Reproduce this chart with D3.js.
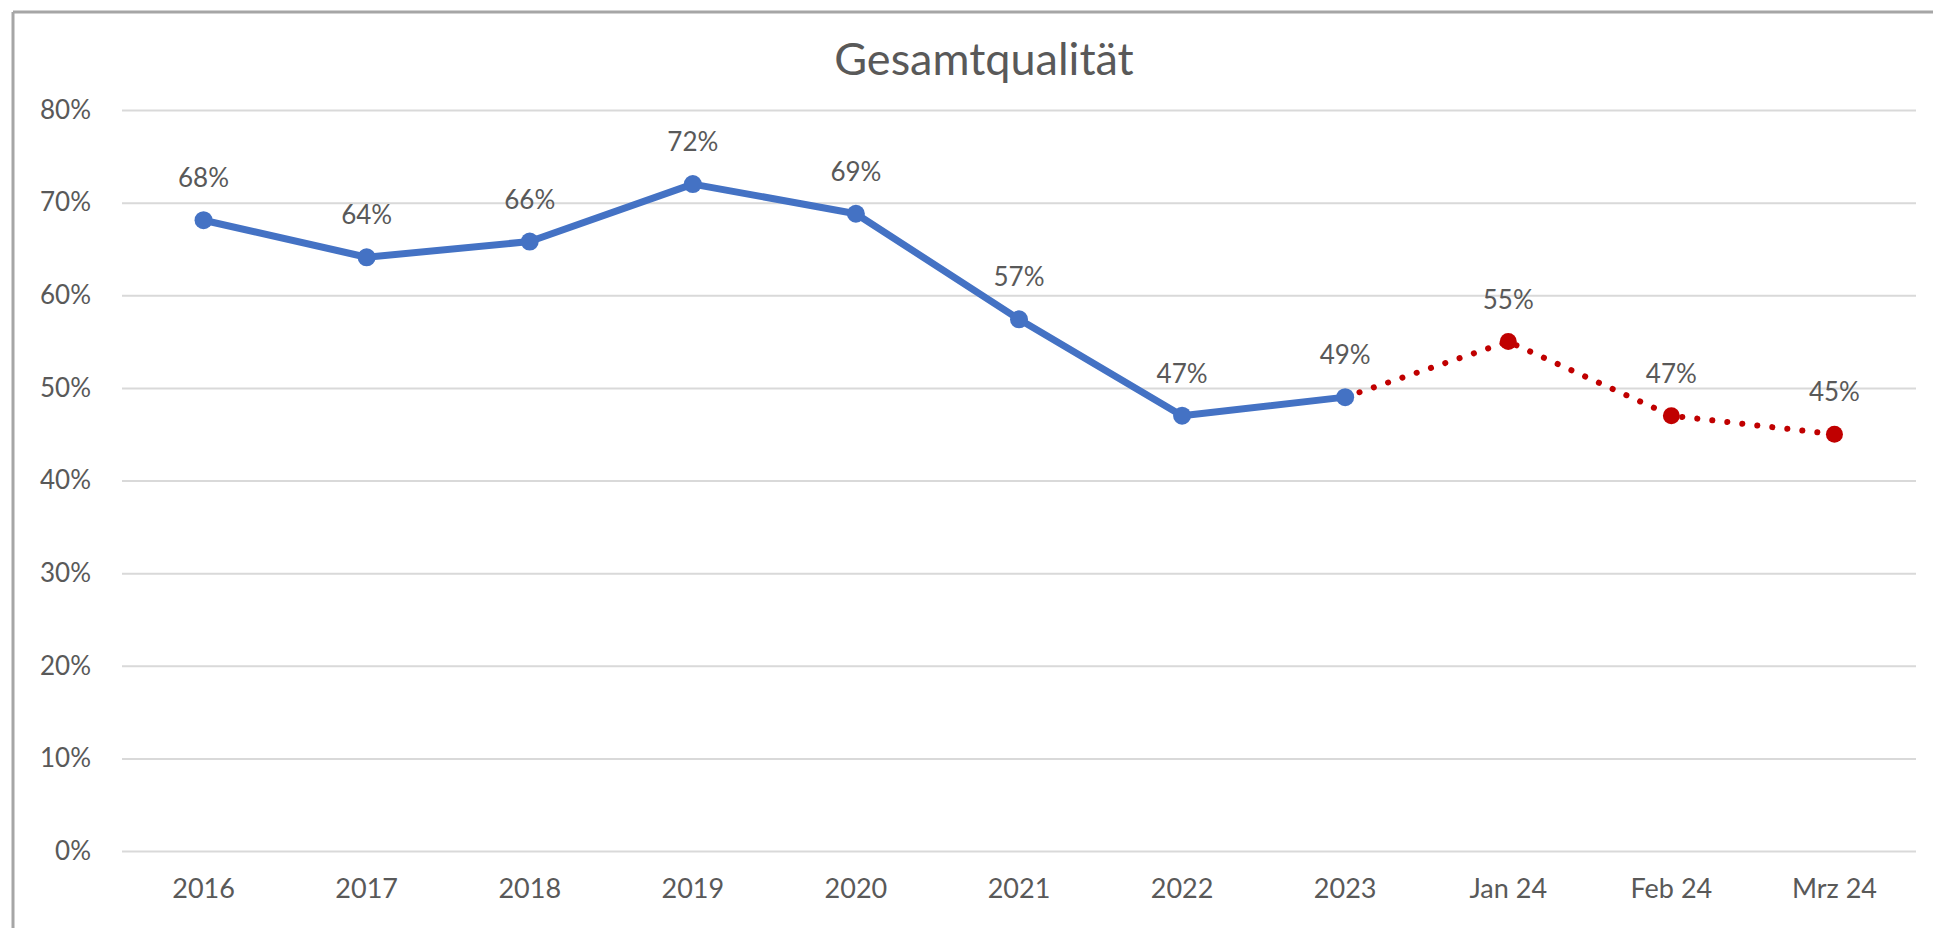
<!DOCTYPE html>
<html>
<head>
<meta charset="utf-8">
<script src="https://cdn.jsdelivr.net/npm/d3@7"></script>
<style>
  html, body { margin: 0; padding: 0; background: #fff; }
  svg { display: block; }
  text { font-family: Lato, "Open Sans", sans-serif; fill: #595959; }
</style>
</head>
<body>
<svg id="chart" width="1933" height="928"></svg>
<script>
const title = "Gesamtqualität";
const categories = ["2016", "2017", "2018", "2019", "2020", "2021", "2022", "2023", "Jan 24", "Feb 24", "Mrz 24"];
const actualValues = [68.1, 64.1, 65.8, 72.0, 68.8, 57.4, 47.0, 49.0, null, null, null];
const forecastValues = [null, null, null, null, null, null, null, 49.0, 55.0, 47.0, 45.0];
const forecastLabelled = [false, false, false, false, false, false, false, false, true, true, true];
const yTicks = [0, 10, 20, 30, 40, 50, 60, 70, 80];

const W = 1933, H = 928;
const svg = d3.select("#chart");
const plot = { left: 122, right: 1916, top: 110, bottom: 851 };

const x = d3.scaleBand().domain(categories).range([plot.left, plot.right]).padding(0);
const cx = d => x(d) + x.bandwidth() / 2;
const y = d3.scaleLinear().domain([0, 80]).range([plot.bottom, plot.top]);

// frame
svg.append("line").attr("x1", 13).attr("x2", W).attr("y1", 12).attr("y2", 12)
  .attr("stroke", "#a6a6a6").attr("stroke-width", 3);
svg.append("line").attr("x1", 13).attr("x2", 13).attr("y1", 12).attr("y2", H)
  .attr("stroke", "#a6a6a6").attr("stroke-width", 3);

// title
svg.append("text").attr("x", 984).attr("y", 58).attr("text-anchor", "middle")
  .attr("dominant-baseline", "central").style("font-size", "45px").text(title);

// y axis gridlines + labels
const yAxis = d3.axisLeft(y).tickValues(yTicks).tickSize(-(plot.right - plot.left))
  .tickPadding(31).tickFormat(d => d + "%");
const gy = svg.append("g").attr("transform", `translate(${plot.left},0)`).call(yAxis);
gy.select(".domain").remove();
gy.selectAll(".tick line").attr("stroke", "#d9d9d9").attr("stroke-width", 2);
gy.selectAll(".tick text").style("font-size", "26px").attr("fill", "#595959")
  .style("font-family", "Lato, 'Open Sans', sans-serif");

// x axis labels
const xAxis = d3.axisBottom(x).tickSize(0).tickPadding(28);
const gx = svg.append("g").attr("transform", `translate(0,${plot.bottom})`).call(xAxis);
gx.select(".domain").remove();
gx.selectAll(".tick text").style("font-size", "27px").attr("fill", "#595959")
  .style("font-family", "Lato, 'Open Sans', sans-serif");

const lineGen = d3.line()
  .defined(d => d.v !== null)
  .x(d => cx(d.c))
  .y(d => y(d.v));

const actual = categories.map((c, i) => ({ c, v: actualValues[i], lab: true }));
const forecast = categories.map((c, i) => ({ c, v: forecastValues[i], lab: forecastLabelled[i] }));

// forecast dotted line
svg.append("path").datum(forecast).attr("d", lineGen)
  .attr("fill", "none").attr("stroke", "#c00000").attr("stroke-width", 6)
  .attr("stroke-linecap", "round").attr("stroke-dasharray", "0.1 15");

// actual line
svg.append("path").datum(actual).attr("d", lineGen)
  .attr("fill", "none").attr("stroke", "#4472c4").attr("stroke-width", 7)
  .attr("stroke-linejoin", "round");

// forecast markers
const fPts = forecast.filter(d => d.v !== null && d.lab);
svg.selectAll(".fm").data(fPts).enter().append("circle")
  .attr("cx", d => cx(d.c)).attr("cy", d => y(d.v)).attr("r", 8.5).attr("fill", "#c00000");

// actual markers
const aPts = actual.filter(d => d.v !== null);
svg.selectAll(".am").data(aPts).enter().append("circle")
  .attr("cx", d => cx(d.c)).attr("cy", d => y(d.v)).attr("r", 9).attr("fill", "#4472c4");

// labels
const labelled = aPts.concat(fPts);
svg.selectAll(".lab").data(labelled).enter().append("text")
  .attr("x", d => cx(d.c)).attr("y", d => y(d.v) - 43)
  .attr("text-anchor", "middle").attr("dominant-baseline", "central")
  .style("font-size", "26px").text(d => Math.round(d.v) + "%");
</script>
</body>
</html>
